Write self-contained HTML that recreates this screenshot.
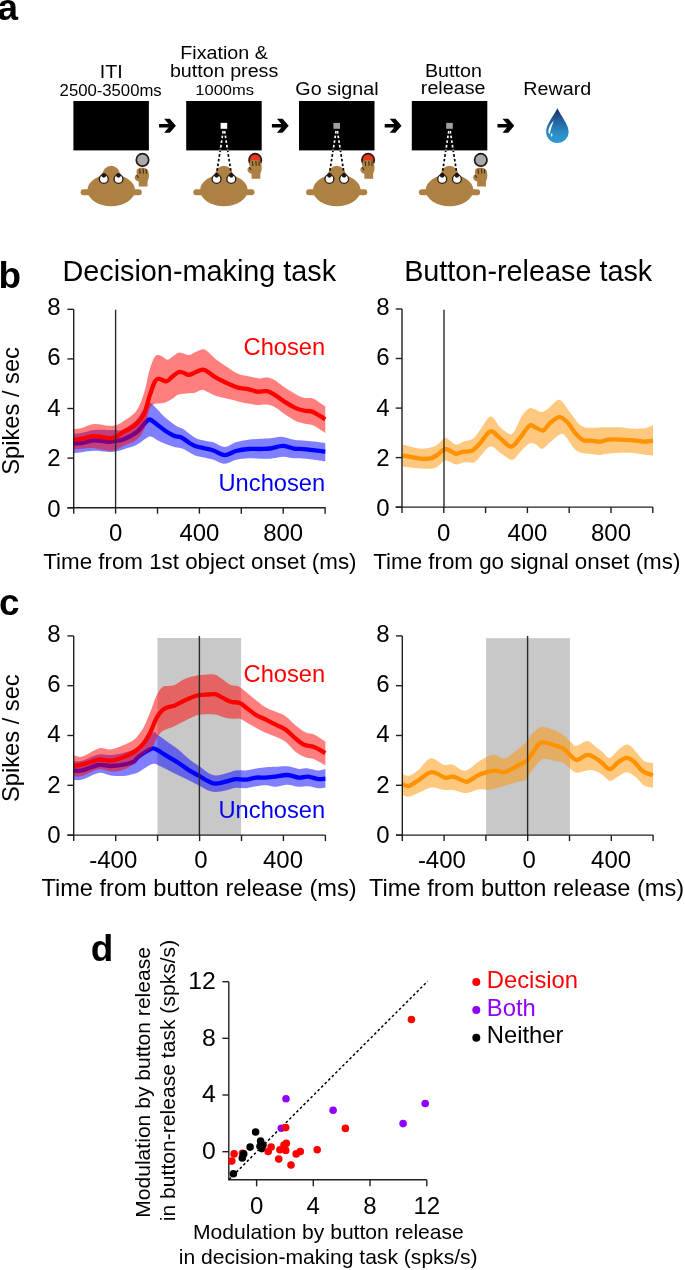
<!DOCTYPE html>
<html><head><meta charset="utf-8"><title>Figure</title>
<style>
html,body{margin:0;padding:0;background:#fff;}
body{width:685px;height:1270px;overflow:hidden;}
svg{will-change:transform;display:block;font-family:"Liberation Sans", sans-serif;}
</style></head>
<body>
<svg width="685" height="1270" viewBox="0 0 685 1270">
<text x="-2.4" y="20.2" font-size="36.9" text-anchor="start" font-weight="bold" fill="#000" >a</text>
<text transform="translate(111.25,77.6) scale(1.064,1)" font-size="18.52" text-anchor="middle" fill="#000">ITI</text>
<text transform="translate(110.65,95.7) scale(1.064,1)" font-size="15.70" text-anchor="middle" fill="#000">2500-3500ms</text>
<text transform="translate(224.1,58.6) scale(1.064,1)" font-size="18.52" text-anchor="middle" fill="#000">Fixation &amp;</text>
<text transform="translate(224.1,76.9) scale(1.064,1)" font-size="18.52" text-anchor="middle" fill="#000">button press</text>
<text transform="translate(224.65,95.3) scale(1.064,1)" font-size="15.51" text-anchor="middle" fill="#000">1000ms</text>
<text transform="translate(336.9,94.9) scale(1.064,1)" font-size="18.52" text-anchor="middle" fill="#000">Go signal</text>
<text transform="translate(453.4,76.8) scale(1.064,1)" font-size="18.52" text-anchor="middle" fill="#000">Button</text>
<text transform="translate(453.15,94.3) scale(1.064,1)" font-size="18.52" text-anchor="middle" fill="#000">release</text>
<text transform="translate(557.3,95.0) scale(1.064,1)" font-size="18.52" text-anchor="middle" fill="#000">Reward</text>
<rect x="73.4" y="101" width="75.5" height="49.4" fill="#000"/>
<polygon points="159.1,123.9 168.6,123.9 164.1,118.8 169.8,118.8 175.9,125.8 169.8,132.7 164.1,132.7 168.6,127.6 159.1,127.6" fill="#000"/>
<rect x="80.6" y="189.3" width="61.2" height="5.9" rx="2.95" fill="#ad8044"/>
<circle cx="111.2" cy="174.6" r="8.8" fill="#ad8044"/>
<ellipse cx="111.2" cy="190.2" rx="23.8" ry="16.0" fill="#ad8044"/>
<circle cx="103.8" cy="179" r="4.45" fill="#fff" stroke="#231815" stroke-width="1.3"/>
<circle cx="103.8" cy="175.3" r="2.35" fill="#231815"/>
<circle cx="118.5" cy="179" r="4.45" fill="#fff" stroke="#231815" stroke-width="1.3"/>
<circle cx="118.5" cy="175.3" r="2.35" fill="#231815"/>
<circle cx="142.5" cy="159.9" r="6.2" fill="#a9a9a9" stroke="#231815" stroke-width="1.7"/>
<path d="M138.75,186.60 L138.75,181.50 C137.65,181.30 136.55,180.90 135.75,180.00 C134.85,179.00 134.55,177.90 134.75,176.90 C134.95,175.60 135.95,174.60 137.05,174.70 C136.65,173.60 136.45,172.50 136.55,171.60 C136.65,170.30 136.95,169.50 137.55,169.00 C138.35,168.30 139.35,167.90 140.65,167.80 C142.15,167.70 143.95,167.80 145.35,168.30 C146.95,168.80 148.05,170.00 148.45,171.70 C148.95,173.50 149.05,175.80 148.75,177.60 C148.55,179.00 148.15,180.30 147.55,181.40 L147.55,186.60 Z" fill="#ad8044"/>
<line x1="139.7" y1="169.3" x2="140.1" y2="173.4" stroke="#3a2616" stroke-width="1.05" stroke-linecap="round"/>
<line x1="143.2" y1="169.0" x2="143.4" y2="173.2" stroke="#3a2616" stroke-width="1.05" stroke-linecap="round"/>
<line x1="146.2" y1="169.6" x2="146.4" y2="173.2" stroke="#3a2616" stroke-width="1.05" stroke-linecap="round"/>
<line x1="136.8" y1="175.3" x2="138.2" y2="177.6" stroke="#3a2616" stroke-width="1.05" stroke-linecap="round"/>
<rect x="186.2" y="101" width="75.5" height="49.4" fill="#000"/>
<polygon points="271.9,123.9 281.4,123.9 276.9,118.8 282.6,118.8 288.7,125.8 282.6,132.7 276.9,132.7 281.4,127.6 271.9,127.6" fill="#000"/>
<rect x="193.3" y="189.3" width="61.2" height="5.9" rx="2.95" fill="#ad8044"/>
<circle cx="223.9" cy="174.6" r="8.8" fill="#ad8044"/>
<ellipse cx="223.9" cy="190.2" rx="23.8" ry="16.0" fill="#ad8044"/>
<circle cx="216.6" cy="179" r="4.45" fill="#fff" stroke="#231815" stroke-width="1.3"/>
<circle cx="216.6" cy="175.3" r="2.35" fill="#231815"/>
<circle cx="231.3" cy="179" r="4.45" fill="#fff" stroke="#231815" stroke-width="1.3"/>
<circle cx="231.3" cy="175.3" r="2.35" fill="#231815"/>
<rect x="220.6" y="122.9" width="6.6" height="5.9" fill="#fff"/>
<line x1="223.2" y1="131" x2="216.6" y2="174" stroke="#000" stroke-width="1.7" stroke-dasharray="2.6 2.1"/>
<line x1="223.2" y1="131" x2="216.6" y2="174" stroke="#fff" stroke-width="1.7" stroke-dasharray="2.6 2.1" clip-path="url(#scr1)"/>
<line x1="224.6" y1="131" x2="231.3" y2="174" stroke="#000" stroke-width="1.7" stroke-dasharray="2.6 2.1"/>
<line x1="224.6" y1="131" x2="231.3" y2="174" stroke="#fff" stroke-width="1.7" stroke-dasharray="2.6 2.1" clip-path="url(#scr1)"/>
<clipPath id="scr1"><rect x="186.2" y="101" width="75.5" height="49.4"/></clipPath>
<circle cx="255.2" cy="159.9" r="6.2" fill="#e0391e" stroke="#231815" stroke-width="1.7"/>
<path d="M251.55,178.80 L251.55,173.70 C250.45,173.50 249.35,173.10 248.55,172.20 C247.65,171.20 247.35,170.10 247.55,169.10 C247.75,167.80 248.75,166.80 249.85,166.90 C249.45,165.80 249.25,164.70 249.35,163.80 C249.45,162.50 249.75,161.70 250.35,161.20 C251.15,160.50 252.15,160.10 253.45,160.00 C254.95,159.90 256.75,160.00 258.15,160.50 C259.75,161.00 260.85,162.20 261.25,163.90 C261.75,165.70 261.85,168.00 261.55,169.80 C261.35,171.20 260.95,172.50 260.35,173.60 L260.35,178.80 Z" fill="#ad8044"/>
<line x1="252.4" y1="161.5" x2="252.8" y2="165.6" stroke="#3a2616" stroke-width="1.05" stroke-linecap="round"/>
<line x1="255.9" y1="161.2" x2="256.2" y2="165.4" stroke="#3a2616" stroke-width="1.05" stroke-linecap="round"/>
<line x1="258.9" y1="161.8" x2="259.2" y2="165.4" stroke="#3a2616" stroke-width="1.05" stroke-linecap="round"/>
<line x1="249.5" y1="167.5" x2="250.9" y2="169.8" stroke="#3a2616" stroke-width="1.05" stroke-linecap="round"/>
<rect x="299.0" y="101" width="75.5" height="49.4" fill="#000"/>
<polygon points="384.7,123.9 394.2,123.9 389.7,118.8 395.4,118.8 401.5,125.8 395.4,132.7 389.7,132.7 394.2,127.6 384.7,127.6" fill="#000"/>
<rect x="306.1" y="189.3" width="61.2" height="5.9" rx="2.95" fill="#ad8044"/>
<circle cx="336.8" cy="174.6" r="8.8" fill="#ad8044"/>
<ellipse cx="336.8" cy="190.2" rx="23.8" ry="16.0" fill="#ad8044"/>
<circle cx="329.4" cy="179" r="4.45" fill="#fff" stroke="#231815" stroke-width="1.3"/>
<circle cx="329.4" cy="175.3" r="2.35" fill="#231815"/>
<circle cx="344.1" cy="179" r="4.45" fill="#fff" stroke="#231815" stroke-width="1.3"/>
<circle cx="344.1" cy="175.3" r="2.35" fill="#231815"/>
<rect x="333.4" y="122.9" width="6.6" height="5.9" fill="#a0a0a0"/>
<line x1="336.1" y1="131" x2="329.4" y2="174" stroke="#000" stroke-width="1.7" stroke-dasharray="2.6 2.1"/>
<line x1="336.1" y1="131" x2="329.4" y2="174" stroke="#fff" stroke-width="1.7" stroke-dasharray="2.6 2.1" clip-path="url(#scr2)"/>
<line x1="337.4" y1="131" x2="344.1" y2="174" stroke="#000" stroke-width="1.7" stroke-dasharray="2.6 2.1"/>
<line x1="337.4" y1="131" x2="344.1" y2="174" stroke="#fff" stroke-width="1.7" stroke-dasharray="2.6 2.1" clip-path="url(#scr2)"/>
<clipPath id="scr2"><rect x="299.0" y="101" width="75.5" height="49.4"/></clipPath>
<circle cx="368.1" cy="159.9" r="6.2" fill="#e0391e" stroke="#231815" stroke-width="1.7"/>
<path d="M364.35,178.80 L364.35,173.70 C363.25,173.50 362.15,173.10 361.35,172.20 C360.45,171.20 360.15,170.10 360.35,169.10 C360.55,167.80 361.55,166.80 362.65,166.90 C362.25,165.80 362.05,164.70 362.15,163.80 C362.25,162.50 362.55,161.70 363.15,161.20 C363.95,160.50 364.95,160.10 366.25,160.00 C367.75,159.90 369.55,160.00 370.95,160.50 C372.55,161.00 373.65,162.20 374.05,163.90 C374.55,165.70 374.65,168.00 374.35,169.80 C374.15,171.20 373.75,172.50 373.15,173.60 L373.15,178.80 Z" fill="#ad8044"/>
<line x1="365.2" y1="161.5" x2="365.6" y2="165.6" stroke="#3a2616" stroke-width="1.05" stroke-linecap="round"/>
<line x1="368.8" y1="161.2" x2="369.1" y2="165.4" stroke="#3a2616" stroke-width="1.05" stroke-linecap="round"/>
<line x1="371.8" y1="161.8" x2="372.1" y2="165.4" stroke="#3a2616" stroke-width="1.05" stroke-linecap="round"/>
<line x1="362.4" y1="167.5" x2="363.8" y2="169.8" stroke="#3a2616" stroke-width="1.05" stroke-linecap="round"/>
<rect x="411.8" y="101" width="75.5" height="49.4" fill="#000"/>
<polygon points="497.5,123.9 507.0,123.9 502.5,118.8 508.2,118.8 514.3,125.8 508.2,132.7 502.5,132.7 507.0,127.6 497.5,127.6" fill="#000"/>
<rect x="418.9" y="189.3" width="61.2" height="5.9" rx="2.95" fill="#ad8044"/>
<circle cx="449.5" cy="174.6" r="8.8" fill="#ad8044"/>
<ellipse cx="449.5" cy="190.2" rx="23.8" ry="16.0" fill="#ad8044"/>
<circle cx="442.2" cy="179" r="4.45" fill="#fff" stroke="#231815" stroke-width="1.3"/>
<circle cx="442.2" cy="175.3" r="2.35" fill="#231815"/>
<circle cx="456.9" cy="179" r="4.45" fill="#fff" stroke="#231815" stroke-width="1.3"/>
<circle cx="456.9" cy="175.3" r="2.35" fill="#231815"/>
<rect x="446.2" y="122.9" width="6.6" height="5.9" fill="#a0a0a0"/>
<line x1="448.8" y1="131" x2="442.2" y2="174" stroke="#000" stroke-width="1.7" stroke-dasharray="2.6 2.1"/>
<line x1="448.8" y1="131" x2="442.2" y2="174" stroke="#fff" stroke-width="1.7" stroke-dasharray="2.6 2.1" clip-path="url(#scr3)"/>
<line x1="450.2" y1="131" x2="456.9" y2="174" stroke="#000" stroke-width="1.7" stroke-dasharray="2.6 2.1"/>
<line x1="450.2" y1="131" x2="456.9" y2="174" stroke="#fff" stroke-width="1.7" stroke-dasharray="2.6 2.1" clip-path="url(#scr3)"/>
<clipPath id="scr3"><rect x="411.8" y="101" width="75.5" height="49.4"/></clipPath>
<circle cx="480.8" cy="159.9" r="6.2" fill="#a9a9a9" stroke="#231815" stroke-width="1.7"/>
<path d="M477.15,186.60 L477.15,181.50 C476.05,181.30 474.95,180.90 474.15,180.00 C473.25,179.00 472.95,177.90 473.15,176.90 C473.35,175.60 474.35,174.60 475.45,174.70 C475.05,173.60 474.85,172.50 474.95,171.60 C475.05,170.30 475.35,169.50 475.95,169.00 C476.75,168.30 477.75,167.90 479.05,167.80 C480.55,167.70 482.35,167.80 483.75,168.30 C485.35,168.80 486.45,170.00 486.85,171.70 C487.35,173.50 487.45,175.80 487.15,177.60 C486.95,179.00 486.55,180.30 485.95,181.40 L485.95,186.60 Z" fill="#ad8044"/>
<line x1="478.0" y1="169.3" x2="478.4" y2="173.4" stroke="#3a2616" stroke-width="1.05" stroke-linecap="round"/>
<line x1="481.5" y1="169.0" x2="481.8" y2="173.2" stroke="#3a2616" stroke-width="1.05" stroke-linecap="round"/>
<line x1="484.5" y1="169.6" x2="484.8" y2="173.2" stroke="#3a2616" stroke-width="1.05" stroke-linecap="round"/>
<line x1="475.1" y1="175.3" x2="476.5" y2="177.6" stroke="#3a2616" stroke-width="1.05" stroke-linecap="round"/>
<defs><linearGradient id="dropg" x1="0" y1="0" x2="0" y2="1"><stop offset="0" stop-color="#1a2c66"/><stop offset="0.35" stop-color="#245f9c"/><stop offset="0.7" stop-color="#2b8bc6"/><stop offset="1" stop-color="#2f9bd4"/></linearGradient></defs>
<path d="M557.4,108.3 C556,111.5 551,118.5 548.5,123.5 C546.8,126.8 546.1,129 546.1,131.8 C546.1,138 551,143.1 557.3,143.1 C563.7,143.1 568.6,138 568.6,131.8 C568.6,129 567.8,126.8 566.1,123.5 C563.6,118.5 558.8,111.5 557.4,108.3 Z" fill="url(#dropg)"/>
<path d="M553.8,120.8 C550.8,123.6 548.4,127.6 548.4,131.2 C548.4,132.7 548.9,133.6 549.8,133.7 C550.6,129.6 552.2,125.0 553.8,120.8 Z" fill="#fff"/>
<ellipse cx="551.6" cy="134.9" rx="0.85" ry="1.6" fill="#fff"/>
<text x="-1.44" y="288.3" font-size="36.9" text-anchor="start" font-weight="bold" fill="#000" >b</text>
<text x="199.3" y="280.9" font-size="28.8" text-anchor="middle" font-weight="normal" fill="#000" >Decision-making task</text>
<text x="528.2" y="281.3" font-size="28.8" text-anchor="middle" font-weight="normal" fill="#000" >Button-release task</text>
<g>
<path d="M73.5,433.8 C74.9,433.6 78.6,433.5 82.0,432.9 C85.4,432.3 89.3,430.5 93.7,430.0 C98.1,429.5 104.9,430.0 108.6,430.0 C112.2,430.0 113.2,430.1 115.6,430.0 C118.0,429.9 119.6,431.2 123.1,429.5 C126.5,427.8 133.0,423.2 136.3,420.0 C139.6,416.8 140.8,412.9 143.0,410.0 C145.2,407.1 147.1,402.6 149.4,402.4 C151.7,402.2 154.4,406.5 157.0,409.0 C159.6,411.5 162.1,414.8 165.2,417.5 C168.3,420.2 172.6,423.4 175.7,425.4 C178.8,427.4 180.4,427.2 183.6,429.3 C186.8,431.4 191.4,435.8 195.0,437.7 C198.6,439.6 202.1,440.0 205.2,440.8 C208.3,441.6 210.2,441.3 213.4,442.3 C216.7,443.3 220.9,447.0 224.7,447.0 C228.4,447.0 232.0,443.5 235.9,442.3 C239.8,441.1 244.2,440.4 248.2,439.8 C252.2,439.2 256.3,439.1 260.0,438.8 C263.7,438.6 266.6,438.7 270.2,438.3 C273.8,437.9 277.6,436.4 281.5,436.7 C285.4,436.9 289.7,439.1 293.8,439.8 C297.9,440.5 300.9,440.3 306.1,440.8 C311.4,441.3 322.1,442.5 325.3,442.9 L325.3,461.3 C322.1,460.9 311.4,459.2 306.1,458.7 C300.9,458.2 297.6,458.5 293.8,458.2 C290.0,457.9 287.4,456.6 283.5,456.7 C279.6,456.8 274.1,458.4 270.2,458.7 C266.3,459.0 263.7,458.8 260.0,458.7 C256.3,458.6 252.2,458.0 248.2,458.2 C244.2,458.4 239.8,458.8 235.9,459.7 C232.0,460.6 228.4,463.8 224.7,463.8 C220.9,463.8 216.7,460.7 213.4,459.7 C210.2,458.7 208.3,458.4 205.2,457.7 C202.1,457.0 198.6,457.0 195.0,455.6 C191.4,454.2 187.0,450.5 183.6,449.1 C180.2,447.7 177.5,448.0 174.4,447.1 C171.3,446.2 168.1,445.0 165.2,443.8 C162.3,442.6 159.6,441.2 157.0,440.0 C154.4,438.8 152.8,435.8 149.4,436.6 C146.0,437.5 140.7,443.0 136.3,445.1 C131.9,447.2 126.5,448.4 123.1,449.5 C119.6,450.6 118.0,451.1 115.6,451.5 C113.2,451.9 112.2,452.0 108.6,451.9 C104.9,451.8 98.1,450.8 93.7,450.8 C89.3,450.9 85.4,451.8 82.0,452.2 C78.6,452.6 74.9,452.9 73.5,453.0 Z" fill="rgba(0,0,255,0.5)"/>
<path d="M73.5,443.5 C74.9,443.4 78.6,443.6 82.0,443.1 C85.4,442.6 89.3,440.6 93.7,440.4 C98.1,440.2 104.9,441.7 108.6,441.8 C112.2,441.9 113.2,441.3 115.6,440.9 C118.0,440.5 119.6,440.9 123.1,439.5 C126.5,438.1 132.8,435.1 136.3,432.5 C139.8,429.9 142.0,426.2 144.2,424.0 C146.4,421.8 147.3,419.4 149.4,419.5 C151.5,419.6 154.4,422.6 157.0,424.5 C159.6,426.4 162.3,428.8 165.2,430.7 C168.1,432.6 171.8,434.8 174.4,435.9 C177.0,437.0 178.6,436.1 181.0,437.2 C183.4,438.3 186.5,441.1 188.8,442.5 C191.1,443.9 192.3,444.9 195.0,445.9 C197.7,446.9 202.1,447.7 205.2,448.5 C208.3,449.3 210.2,449.4 213.4,450.5 C216.7,451.6 220.9,455.0 224.7,455.1 C228.4,455.2 232.0,452.0 235.9,451.0 C239.8,450.0 244.2,449.3 248.2,449.0 C252.2,448.7 256.3,449.1 260.0,449.0 C263.7,448.9 266.4,449.0 270.2,448.5 C273.9,448.0 278.6,445.9 282.5,445.9 C286.4,445.9 289.9,447.9 293.8,448.5 C297.7,449.1 300.9,448.8 306.1,449.3 C311.4,449.8 322.1,451.2 325.3,451.6" stroke="#0000ff" stroke-width="4.3" fill="none" stroke-linejoin="round" stroke-linecap="butt"/>
<path d="M73.5,429.2 C74.9,429.0 78.6,429.0 82.0,428.1 C85.4,427.2 89.3,424.5 93.7,424.1 C98.1,423.7 104.9,425.6 108.6,425.8 C112.2,426.0 113.2,425.9 115.6,425.2 C118.0,424.5 119.6,423.9 123.1,421.5 C126.5,419.1 132.8,415.8 136.3,411.0 C139.8,406.2 142.0,399.4 144.2,392.6 C146.4,385.8 147.7,376.1 149.4,370.2 C151.2,364.3 153.2,359.6 154.7,357.1 C156.2,354.6 157.2,355.1 158.6,355.1 C160.0,355.1 161.5,356.2 163.0,357.0 C164.5,357.8 166.1,359.9 167.8,359.7 C169.6,359.5 171.5,357.2 173.5,356.0 C175.5,354.8 177.0,352.6 179.6,352.5 C182.2,352.4 186.2,355.1 188.8,355.1 C191.4,355.1 192.7,353.3 195.0,352.3 C197.3,351.3 200.6,349.4 202.7,349.2 C204.8,349.0 205.2,349.7 207.3,351.3 C209.4,352.9 212.4,356.4 215.5,358.9 C218.6,361.4 221.9,363.6 225.7,366.1 C229.4,368.6 234.2,372.1 238.0,373.8 C241.8,375.5 244.6,375.5 248.2,376.3 C251.8,377.1 256.3,378.2 259.5,378.4 C262.7,378.6 264.6,377.1 267.2,377.4 C269.8,377.7 272.3,378.6 275.4,380.4 C278.5,382.2 282.2,385.8 285.6,388.1 C289.0,390.4 292.7,392.6 295.8,394.2 C298.9,395.8 301.3,397.1 304.0,397.8 C306.7,398.5 309.6,397.5 312.2,398.3 C314.8,399.1 317.2,401.0 319.4,402.4 C321.6,403.8 324.3,405.8 325.3,406.5 L325.3,433.1 C324.3,432.4 321.6,430.4 319.4,429.0 C317.2,427.6 314.8,425.8 312.2,424.9 C309.6,424.0 306.7,424.1 304.0,423.4 C301.3,422.7 298.9,422.3 295.8,420.9 C292.7,419.4 289.0,416.9 285.6,414.7 C282.2,412.5 278.5,409.2 275.4,407.5 C272.3,405.8 270.2,404.9 267.2,404.5 C264.2,404.1 260.6,405.2 257.4,405.0 C254.2,404.8 251.4,404.1 248.2,403.5 C245.0,402.9 241.8,402.3 238.0,401.4 C234.2,400.5 229.4,399.2 225.7,398.3 C221.9,397.4 219.3,397.2 215.5,395.8 C211.7,394.4 206.1,390.6 202.7,390.1 C199.3,389.6 197.3,392.2 195.0,392.7 C192.7,393.2 191.6,392.9 188.8,393.2 C186.0,393.5 181.1,393.5 178.3,394.5 C175.5,395.5 174.2,397.7 172.0,399.0 C169.8,400.3 167.5,401.6 165.2,402.4 C162.9,403.1 160.0,403.2 158.0,403.5 C156.0,403.8 154.8,403.4 153.4,404.4 C152.0,405.4 150.9,405.5 149.4,409.6 C147.9,413.8 146.4,424.2 144.2,429.3 C142.0,434.4 139.8,437.1 136.3,439.9 C132.8,442.7 126.5,444.3 123.1,446.0 C119.6,447.7 118.0,449.2 115.6,450.0 C113.2,450.8 112.2,451.1 108.6,450.8 C104.9,450.5 98.1,448.6 93.7,448.2 C89.3,447.8 85.4,448.5 82.0,448.7 C78.6,448.9 74.9,449.2 73.5,449.3 Z" fill="rgba(255,0,0,0.5)"/>
<path d="M73.5,439.6 C74.9,439.5 78.6,439.3 82.0,438.7 C85.4,438.1 89.3,436.3 93.7,436.2 C98.1,436.1 104.9,438.0 108.6,438.1 C112.2,438.2 113.2,438.0 115.6,437.0 C118.0,436.0 120.7,433.4 123.1,432.0 C125.5,430.6 127.8,429.8 130.0,428.5 C132.2,427.2 133.9,426.6 136.3,424.1 C138.7,421.6 142.0,418.2 144.2,413.6 C146.4,409.0 147.7,401.8 149.4,396.5 C151.2,391.2 153.2,384.9 154.7,382.0 C156.2,379.1 156.6,378.9 158.6,378.8 C160.6,378.7 164.3,381.7 166.5,381.4 C168.7,381.1 170.0,378.5 172.0,377.0 C174.0,375.5 176.5,372.9 178.3,372.2 C180.1,371.4 181.2,372.1 183.0,372.5 C184.8,372.9 186.8,374.8 188.8,374.8 C190.8,374.8 192.7,373.4 195.0,372.5 C197.3,371.6 200.5,369.8 202.7,369.7 C204.9,369.6 206.2,370.9 208.3,372.2 C210.4,373.5 212.6,375.7 215.5,377.4 C218.4,379.1 221.9,380.8 225.7,382.5 C229.4,384.2 234.2,386.5 238.0,387.6 C241.8,388.7 245.0,388.4 248.2,389.1 C251.4,389.8 254.2,391.4 257.4,391.7 C260.6,392.0 264.2,390.6 267.2,391.2 C270.2,391.8 272.3,393.4 275.4,395.3 C278.5,397.2 282.2,400.3 285.6,402.4 C289.0,404.5 292.7,406.7 295.8,408.1 C298.9,409.5 301.3,410.0 304.0,410.6 C306.7,411.2 309.6,410.8 312.2,411.6 C314.8,412.5 317.2,414.4 319.4,415.7 C321.6,417.0 324.3,418.7 325.3,419.3" stroke="#ff0000" stroke-width="4.3" fill="none" stroke-linejoin="round" stroke-linecap="butt"/>
</g>
<path d="M115.6,309.7 V507.7" stroke="#2a2a2a" stroke-width="1.4"/>
<path d="M73.7,309.3 V507.7" stroke="#231f20" stroke-width="1.4" fill="none"/>
<path d="M67.4,507.7 H325.7" stroke="#231f20" stroke-width="1.4" fill="none"/>
<path d="M67.4,309.3 H73.7" stroke="#231f20" stroke-width="1.4"/>
<text x="60.6" y="315.1" font-size="24" text-anchor="end" font-weight="normal" fill="#000" >8</text>
<path d="M67.4,358.9 H73.7" stroke="#231f20" stroke-width="1.4"/>
<text x="60.6" y="365.4" font-size="24" text-anchor="end" font-weight="normal" fill="#000" >6</text>
<path d="M67.4,408.5 H73.7" stroke="#231f20" stroke-width="1.4"/>
<text x="60.6" y="415.8" font-size="24" text-anchor="end" font-weight="normal" fill="#000" >4</text>
<path d="M67.4,458.1 H73.7" stroke="#231f20" stroke-width="1.4"/>
<text x="60.6" y="466.1" font-size="24" text-anchor="end" font-weight="normal" fill="#000" >2</text>
<path d="M67.4,507.7 H73.7" stroke="#231f20" stroke-width="1.4"/>
<text x="60.6" y="516.5" font-size="24" text-anchor="end" font-weight="normal" fill="#000" >0</text>
<path d="M73.7,507.7 V513.7" stroke="#231f20" stroke-width="1.4"/>
<path d="M115.6,507.7 V513.7" stroke="#231f20" stroke-width="1.4"/>
<path d="M157.5,507.7 V513.7" stroke="#231f20" stroke-width="1.4"/>
<path d="M199.4,507.7 V513.7" stroke="#231f20" stroke-width="1.4"/>
<path d="M241.3,507.7 V513.7" stroke="#231f20" stroke-width="1.4"/>
<path d="M283.2,507.7 V513.7" stroke="#231f20" stroke-width="1.4"/>
<path d="M325.1,507.7 V513.7" stroke="#231f20" stroke-width="1.4"/>
<text x="115.6" y="540.8" font-size="24" text-anchor="middle" font-weight="normal" fill="#000" >0</text>
<text x="199.4" y="540.8" font-size="24" text-anchor="middle" font-weight="normal" fill="#000" >400</text>
<text x="283.2" y="540.8" font-size="24" text-anchor="middle" font-weight="normal" fill="#000" >800</text>
<text x="199.9" y="569" font-size="22.35" text-anchor="middle" font-weight="normal" fill="#000" >Time from 1st object onset (ms)</text>
<text x="325.2" y="355.1" font-size="23.7" text-anchor="end" font-weight="normal" fill="#ff0000" >Chosen</text>
<text x="325.2" y="491.1" font-size="23.7" text-anchor="end" font-weight="normal" fill="#0000ee" >Unchosen</text>
<text transform="translate(19.0,410.9) rotate(-90)" font-size="23.7" text-anchor="middle" fill="#000">Spikes / sec</text>
<path d="M402.6,444.6 C403.9,444.9 407.2,445.9 410.2,446.6 C413.2,447.3 417.0,448.4 420.4,448.6 C423.8,448.8 428.0,448.2 430.7,447.6 C433.4,447.0 434.6,446.6 436.8,445.1 C439.0,443.6 442.2,439.5 443.9,438.4 C445.6,437.3 444.9,437.4 447.0,438.4 C449.1,439.4 453.5,444.1 456.2,444.6 C458.9,445.1 460.6,442.5 463.4,441.5 C466.2,440.5 470.4,440.4 473.2,438.4 C476.0,436.4 477.4,433.3 480.3,429.7 C483.2,426.1 487.3,417.0 490.5,416.5 C493.7,416.0 496.6,423.8 499.7,426.7 C502.8,429.6 506.5,432.9 508.9,433.8 C511.3,434.7 511.8,434.9 514.0,431.8 C516.2,428.7 519.6,419.3 522.2,415.4 C524.8,411.5 527.3,409.3 529.4,408.3 C531.5,407.3 533.0,408.7 535.0,409.3 C537.0,409.9 539.0,412.1 541.2,412.0 C543.4,411.9 545.8,410.3 548.4,408.4 C551.0,406.5 554.4,401.9 556.6,400.7 C558.8,399.5 559.3,399.1 561.7,401.2 C564.1,403.3 567.7,409.4 570.9,413.5 C574.1,417.6 577.7,423.4 581.1,425.8 C584.5,428.2 587.3,427.6 591.3,427.8 C595.3,428.1 600.3,427.4 605.2,427.3 C610.1,427.2 616.4,427.1 620.5,427.3 C624.6,427.5 625.8,428.4 629.7,428.6 C633.6,428.8 640.1,428.9 644.0,428.3 C647.9,427.8 651.5,425.8 653.0,425.3 L653.0,455.4 C651.9,455.3 649.8,455.3 646.1,454.9 C642.4,454.5 636.9,453.1 630.8,452.8 C624.7,452.6 614.4,453.0 609.3,453.4 C604.2,453.8 603.1,454.8 600.1,454.9 C597.1,455.0 594.5,454.2 591.3,453.9 C588.1,453.5 584.0,453.8 581.1,452.8 C578.2,451.9 576.3,450.7 573.9,448.2 C571.5,445.7 569.0,440.4 566.8,438.0 C564.6,435.6 563.4,433.2 560.7,433.9 C558.0,434.6 553.5,439.6 550.4,442.1 C547.3,444.6 544.9,448.5 542.3,448.8 C539.7,449.1 537.3,444.8 535.0,444.0 C532.7,443.2 531.0,442.5 528.4,444.0 C525.8,445.5 521.9,450.6 519.2,453.2 C516.5,455.8 515.1,459.9 512.0,459.9 C508.9,459.9 504.4,455.4 500.8,453.2 C497.2,451.0 493.9,446.1 490.5,446.6 C487.1,447.1 483.0,453.7 480.3,456.3 C477.6,458.9 477.0,461.4 474.2,462.4 C471.4,463.4 466.4,462.0 463.4,462.4 C460.4,462.8 458.6,464.7 456.2,464.5 C453.8,464.3 451.1,462.0 449.0,461.4 C446.9,460.8 445.6,460.2 443.9,460.9 C442.2,461.6 440.7,464.2 438.8,465.5 C436.9,466.8 435.8,468.1 432.7,468.6 C429.6,469.1 424.1,468.8 420.4,468.6 C416.6,468.4 413.2,468.0 410.2,467.6 C407.2,467.2 403.9,466.7 402.6,466.5 Z" fill="rgba(255,146,0,0.5)"/>
<path d="M402.6,455.3 C403.9,455.6 407.2,456.2 410.2,456.8 C413.2,457.4 417.0,458.3 420.4,458.6 C423.8,458.9 428.0,458.9 430.7,458.4 C433.4,457.8 434.8,456.7 436.8,455.3 C438.8,453.9 441.4,451.2 442.9,450.2 C444.4,449.2 444.6,449.0 446.0,449.2 C447.4,449.4 449.4,450.4 451.1,451.2 C452.8,452.0 454.1,453.7 456.2,453.8 C458.2,453.9 460.7,452.2 463.4,451.7 C466.1,451.2 469.4,452.1 472.2,450.7 C475.0,449.2 477.2,446.2 480.3,443.0 C483.4,439.8 487.1,432.0 490.5,431.3 C493.9,430.6 497.4,436.3 500.8,438.9 C504.2,441.4 507.9,446.6 511.0,446.6 C514.1,446.6 516.1,442.4 519.2,438.9 C522.3,435.4 526.6,427.5 529.4,425.7 C532.2,423.9 533.8,427.0 536.1,427.8 C538.4,428.6 540.9,431.2 543.3,430.4 C545.7,429.5 547.7,424.9 550.4,422.7 C553.1,420.5 556.7,417.1 559.6,417.1 C562.5,417.1 565.2,420.1 567.8,422.7 C570.4,425.3 572.5,430.0 575.0,432.9 C577.5,435.8 580.4,438.8 583.1,440.1 C585.8,441.4 588.5,440.4 591.3,440.6 C594.1,440.9 597.3,441.8 600.1,441.6 C602.9,441.4 604.7,439.9 608.3,439.6 C611.9,439.3 617.0,439.4 621.6,439.6 C626.2,439.8 632.2,440.3 635.9,440.6 C639.6,440.9 641.1,441.6 644.0,441.6 C646.9,441.6 651.5,440.8 653.0,440.6" stroke="#ff9200" stroke-width="4.3" fill="none" stroke-linejoin="round" stroke-linecap="butt"/>
<path d="M444.0,309.7 V507.1" stroke="#2a2a2a" stroke-width="1.4"/>
<path d="M402.0,309.0 V507.1" stroke="#231f20" stroke-width="1.4" fill="none"/>
<path d="M395.7,507.1 H652.8" stroke="#231f20" stroke-width="1.4" fill="none"/>
<path d="M395.7,309.0 H402.0" stroke="#231f20" stroke-width="1.4"/>
<text x="389.7" y="314.8" font-size="24" text-anchor="end" font-weight="normal" fill="#000" >8</text>
<path d="M395.7,358.5 H402.0" stroke="#231f20" stroke-width="1.4"/>
<text x="389.7" y="365.2" font-size="24" text-anchor="end" font-weight="normal" fill="#000" >6</text>
<path d="M395.7,408.1 H402.0" stroke="#231f20" stroke-width="1.4"/>
<text x="389.7" y="415.5" font-size="24" text-anchor="end" font-weight="normal" fill="#000" >4</text>
<path d="M395.7,457.6 H402.0" stroke="#231f20" stroke-width="1.4"/>
<text x="389.7" y="465.9" font-size="24" text-anchor="end" font-weight="normal" fill="#000" >2</text>
<path d="M395.7,507.1 H402.0" stroke="#231f20" stroke-width="1.4"/>
<text x="389.7" y="516.2" font-size="24" text-anchor="end" font-weight="normal" fill="#000" >0</text>
<path d="M402.0,507.1 V513.1" stroke="#231f20" stroke-width="1.4"/>
<path d="M443.8,507.1 V513.1" stroke="#231f20" stroke-width="1.4"/>
<path d="M485.6,507.1 V513.1" stroke="#231f20" stroke-width="1.4"/>
<path d="M527.4,507.1 V513.1" stroke="#231f20" stroke-width="1.4"/>
<path d="M569.2,507.1 V513.1" stroke="#231f20" stroke-width="1.4"/>
<path d="M611.0,507.1 V513.1" stroke="#231f20" stroke-width="1.4"/>
<path d="M652.8,507.1 V513.1" stroke="#231f20" stroke-width="1.4"/>
<text x="443.8" y="540.8" font-size="24" text-anchor="middle" font-weight="normal" fill="#000" >0</text>
<text x="527.4" y="540.8" font-size="24" text-anchor="middle" font-weight="normal" fill="#000" >400</text>
<text x="611.0" y="540.8" font-size="24" text-anchor="middle" font-weight="normal" fill="#000" >800</text>
<text x="526.8" y="569" font-size="22.35" text-anchor="middle" font-weight="normal" fill="#000" >Time from go signal onset (ms)</text>
<text x="-0.9" y="615.2" font-size="36.9" text-anchor="start" font-weight="bold" fill="#000" >c</text>
<rect x="157.5" y="638" width="83.6" height="197.1" fill="#c8c8c8"/>
<path d="M73.5,761.2 C75.0,761.1 78.0,761.8 82.2,760.7 C86.4,759.6 93.8,755.5 98.6,754.5 C103.4,753.5 106.7,755.2 110.8,755.0 C114.9,754.8 119.3,753.9 123.1,753.0 C126.8,752.1 130.2,750.9 133.3,749.4 C136.5,747.9 138.7,747.1 142.0,744.3 C145.3,741.5 150.7,734.0 153.4,732.5 C156.2,731.0 155.9,733.9 158.5,735.6 C161.1,737.3 165.3,740.4 168.7,742.8 C172.1,745.2 175.5,747.2 178.9,749.9 C182.3,752.6 185.8,756.5 189.2,759.2 C192.6,761.9 196.4,764.2 199.4,766.3 C202.4,768.4 204.4,770.4 207.0,771.9 C209.6,773.4 212.1,775.2 215.2,775.5 C218.3,775.8 222.1,774.4 225.5,773.5 C228.9,772.6 232.3,770.9 235.7,770.4 C239.1,769.9 242.5,770.7 245.9,770.4 C249.3,770.1 252.8,768.9 256.2,768.4 C259.6,767.9 263.2,767.6 266.4,767.3 C269.6,767.0 271.7,767.0 275.2,766.8 C278.7,766.6 283.6,765.9 287.5,766.3 C291.4,766.6 295.4,768.5 298.8,768.9 C302.2,769.2 304.8,768.1 308.0,768.4 C311.2,768.6 315.3,770.3 318.2,770.4 C321.1,770.5 324.2,769.1 325.4,768.9 L325.4,787.8 C324.2,787.9 321.1,788.5 318.2,788.3 C315.3,788.0 311.2,786.5 308.0,786.3 C304.8,786.0 302.2,787.1 298.8,786.8 C295.4,786.5 291.4,784.7 287.5,784.7 C283.6,784.7 278.7,786.7 275.2,786.8 C271.7,786.9 269.6,785.4 266.4,785.3 C263.2,785.2 259.6,785.8 256.2,786.3 C252.8,786.8 249.3,788.0 245.9,788.3 C242.5,788.5 239.1,787.4 235.7,787.8 C232.3,788.1 228.9,789.7 225.5,790.4 C222.1,791.1 218.3,792.0 215.2,791.9 C212.1,791.8 209.6,790.9 207.0,789.9 C204.4,788.9 202.4,787.3 199.4,785.8 C196.4,784.2 192.6,782.3 189.2,780.6 C185.8,778.9 182.3,777.2 178.9,775.5 C175.5,773.8 171.8,771.9 168.7,770.4 C165.6,768.9 163.1,767.4 160.5,766.3 C157.9,765.2 155.8,763.6 153.4,763.8 C151.0,764.0 148.8,765.8 146.2,767.3 C143.6,768.8 140.2,771.4 138.0,772.5 C135.8,773.6 135.8,773.3 133.3,773.9 C130.8,774.5 126.8,775.7 123.1,776.0 C119.3,776.3 114.9,776.0 110.8,775.5 C106.7,775.0 103.4,772.2 98.6,772.9 C93.8,773.6 86.4,778.4 82.2,779.6 C78.0,780.8 75.0,780.0 73.5,780.1 Z" fill="rgba(0,0,255,0.5)"/>
<path d="M73.5,770.6 C75.0,770.6 78.0,771.3 82.2,770.4 C86.4,769.5 93.8,765.7 98.6,765.0 C103.4,764.3 106.7,766.0 110.8,766.0 C114.9,766.0 119.3,765.4 123.1,764.7 C126.8,764.0 130.8,763.2 133.3,761.9 C135.8,760.6 135.8,758.8 138.0,757.1 C140.2,755.4 143.6,753.0 146.2,751.5 C148.8,750.0 151.0,748.3 153.4,748.4 C155.8,748.5 157.9,750.5 160.5,752.0 C163.1,753.5 165.6,755.2 168.7,757.1 C171.8,759.0 175.5,761.0 178.9,763.2 C182.3,765.4 185.8,768.3 189.2,770.4 C192.6,772.5 196.4,774.3 199.4,776.0 C202.4,777.7 204.4,779.3 207.0,780.6 C209.6,781.9 212.1,783.5 215.2,783.7 C218.3,783.9 222.1,782.5 225.5,781.7 C228.9,780.9 232.3,779.5 235.7,779.1 C239.1,778.8 242.5,779.9 245.9,779.6 C249.3,779.4 253.0,777.9 256.2,777.6 C259.4,777.3 261.8,777.8 265.0,777.6 C268.2,777.4 271.4,777.0 275.2,776.6 C278.9,776.2 283.6,774.8 287.5,775.0 C291.4,775.2 295.4,777.3 298.8,777.6 C302.2,777.9 304.8,776.4 308.0,776.6 C311.2,776.9 315.3,778.8 318.2,779.1 C321.1,779.4 324.2,778.7 325.4,778.6" stroke="#0000ff" stroke-width="4.3" fill="none" stroke-linejoin="round" stroke-linecap="butt"/>
<path d="M73.5,755.0 C75.0,755.3 78.0,757.7 82.2,756.6 C86.4,755.5 93.8,749.6 98.6,748.4 C103.4,747.2 106.7,749.9 110.8,749.4 C114.9,748.9 119.3,746.8 123.1,745.3 C126.8,743.8 130.8,741.8 133.3,740.2 C135.8,738.6 136.2,737.9 138.0,735.6 C139.8,733.3 142.0,730.3 144.1,726.4 C146.2,722.5 148.2,717.2 150.3,712.1 C152.4,707.0 154.4,699.9 156.4,695.7 C158.4,691.5 160.6,688.6 162.6,687.0 C164.6,685.4 166.7,686.3 168.7,686.0 C170.7,685.7 172.2,686.1 174.8,685.0 C177.4,683.9 181.0,680.8 184.1,679.3 C187.2,677.8 190.1,677.1 193.3,676.3 C196.5,675.5 199.8,675.0 203.5,674.7 C207.2,674.4 212.0,673.9 215.2,674.7 C218.3,675.5 219.8,677.6 222.4,679.3 C225.0,681.0 227.9,683.8 230.6,685.0 C233.3,686.2 235.9,685.0 238.8,686.5 C241.7,688.0 245.1,691.4 248.0,693.7 C250.9,696.0 253.4,698.1 256.2,700.3 C259.0,702.5 261.8,705.1 265.0,707.0 C268.2,708.9 271.8,710.1 275.2,711.6 C278.6,713.1 282.1,713.9 285.5,716.2 C288.9,718.5 292.3,722.7 295.7,725.4 C299.1,728.1 302.8,731.0 305.9,732.5 C309.0,734.0 310.9,733.1 314.1,734.6 C317.4,736.1 323.5,740.6 325.4,741.8 L325.4,765.3 C323.5,764.3 317.4,760.5 314.1,759.2 C310.9,757.9 309.0,758.8 305.9,757.6 C302.8,756.4 299.1,754.6 295.7,752.0 C292.3,749.4 288.9,744.4 285.5,741.8 C282.1,739.2 278.6,738.1 275.2,736.6 C271.8,735.1 268.2,734.0 265.0,732.5 C261.8,731.0 259.0,729.4 256.2,727.9 C253.4,726.4 250.7,724.8 248.0,723.3 C245.3,721.8 242.5,719.5 239.8,718.7 C237.1,717.9 234.3,719.0 231.6,718.7 C228.9,718.5 226.1,717.9 223.4,717.2 C220.7,716.5 218.8,715.0 215.2,714.6 C211.5,714.2 205.2,714.2 201.5,714.6 C197.8,715.0 196.2,715.6 193.3,716.7 C190.4,717.8 187.3,719.7 184.1,721.3 C180.8,722.9 177.2,724.9 173.8,726.4 C170.4,727.9 166.2,729.0 163.6,730.5 C161.0,732.0 160.6,732.6 158.5,735.6 C156.4,738.6 154.1,745.2 151.3,748.5 C148.6,751.8 145.0,752.9 142.0,755.5 C139.0,758.1 136.5,761.8 133.3,764.2 C130.2,766.6 126.8,768.7 123.1,769.9 C119.3,771.1 114.9,771.5 110.8,771.4 C106.7,771.3 103.4,768.5 98.6,769.3 C93.8,770.1 86.4,774.8 82.2,776.0 C78.0,777.2 75.0,776.4 73.5,776.5 Z" fill="rgba(255,0,0,0.5)"/>
<path d="M73.5,765.8 C75.0,765.6 78.0,765.7 82.2,764.7 C86.4,763.7 93.8,760.3 98.6,759.6 C103.4,758.9 106.7,761.1 110.8,760.7 C114.9,760.3 119.3,758.7 123.1,757.3 C126.8,755.9 130.8,753.9 133.3,752.5 C135.8,751.1 136.2,750.5 138.0,748.9 C139.8,747.3 142.0,745.5 144.1,742.8 C146.2,740.1 148.2,736.6 150.3,732.5 C152.4,728.4 154.4,722.0 156.4,718.2 C158.4,714.5 160.6,711.9 162.6,710.0 C164.6,708.1 166.7,707.8 168.7,707.0 C170.7,706.2 172.2,706.4 174.8,705.4 C177.4,704.4 181.0,702.2 184.1,700.8 C187.2,699.3 190.8,697.6 193.3,696.7 C195.9,695.8 197.0,695.6 199.4,695.2 C201.8,694.8 205.4,694.7 208.0,694.5 C210.6,694.3 212.8,693.7 215.2,694.2 C217.6,694.7 219.8,696.4 222.4,697.7 C225.0,699.0 227.7,700.9 230.6,701.8 C233.5,702.7 236.9,701.7 239.8,702.9 C242.7,704.1 245.3,707.0 248.0,709.0 C250.7,711.0 253.4,713.4 256.2,715.1 C259.0,716.8 261.8,717.7 265.0,719.2 C268.2,720.8 271.8,722.7 275.2,724.4 C278.6,726.1 282.1,727.1 285.5,729.5 C288.9,731.9 292.6,736.2 295.7,738.7 C298.8,741.2 300.8,743.4 303.9,744.8 C307.0,746.2 310.5,745.5 314.1,746.9 C317.7,748.3 323.5,752.0 325.4,753.0" stroke="#ff0000" stroke-width="4.3" fill="none" stroke-linejoin="round" stroke-linecap="butt"/>
<path d="M199.4,635.9 V835.1" stroke="#2a2a2a" stroke-width="1.4"/>
<path d="M73.7,635.9 V835.1" stroke="#231f20" stroke-width="1.4" fill="none"/>
<path d="M67.4,835.1 H325.4" stroke="#231f20" stroke-width="1.4" fill="none"/>
<path d="M67.4,635.9 H73.7" stroke="#231f20" stroke-width="1.4"/>
<text x="60.6" y="641.7" font-size="24" text-anchor="end" font-weight="normal" fill="#000" >8</text>
<path d="M67.4,685.7 H73.7" stroke="#231f20" stroke-width="1.4"/>
<text x="60.6" y="692.1" font-size="24" text-anchor="end" font-weight="normal" fill="#000" >6</text>
<path d="M67.4,735.5 H73.7" stroke="#231f20" stroke-width="1.4"/>
<text x="60.6" y="742.4" font-size="24" text-anchor="end" font-weight="normal" fill="#000" >4</text>
<path d="M67.4,785.3 H73.7" stroke="#231f20" stroke-width="1.4"/>
<text x="60.6" y="792.8" font-size="24" text-anchor="end" font-weight="normal" fill="#000" >2</text>
<path d="M67.4,835.1 H73.7" stroke="#231f20" stroke-width="1.4"/>
<text x="60.6" y="843.1" font-size="24" text-anchor="end" font-weight="normal" fill="#000" >0</text>
<path d="M73.7,835.1 V841.1" stroke="#231f20" stroke-width="1.4"/>
<path d="M115.7,835.1 V841.1" stroke="#231f20" stroke-width="1.4"/>
<path d="M157.6,835.1 V841.1" stroke="#231f20" stroke-width="1.4"/>
<path d="M199.6,835.1 V841.1" stroke="#231f20" stroke-width="1.4"/>
<path d="M241.5,835.1 V841.1" stroke="#231f20" stroke-width="1.4"/>
<path d="M283.4,835.1 V841.1" stroke="#231f20" stroke-width="1.4"/>
<path d="M325.4,835.1 V841.1" stroke="#231f20" stroke-width="1.4"/>
<text x="113.3" y="867.7" font-size="24" text-anchor="middle" font-weight="normal" fill="#000" >-400</text>
<text x="201.0" y="867.7" font-size="24" text-anchor="middle" font-weight="normal" fill="#000" >0</text>
<text x="283.0" y="867.7" font-size="24" text-anchor="middle" font-weight="normal" fill="#000" >400</text>
<text x="199.0" y="896.3" font-size="23.6" text-anchor="middle" font-weight="normal" fill="#000" >Time from button release (ms)</text>
<text x="325.2" y="681.7" font-size="23.7" text-anchor="end" font-weight="normal" fill="#ff0000" >Chosen</text>
<text x="325.2" y="818.0" font-size="23.7" text-anchor="end" font-weight="normal" fill="#0000ee" >Unchosen</text>
<text transform="translate(19.0,738.2) rotate(-90)" font-size="23.7" text-anchor="middle" fill="#000">Spikes / sec</text>
<rect x="486.1" y="638.2" width="83.8" height="196.9" fill="#c8c8c8"/>
<path d="M402.6,774.2 C403.7,774.5 406.6,776.4 409.2,775.7 C411.8,775.0 414.8,773.0 418.4,770.1 C422.0,767.2 426.4,759.1 430.7,758.3 C434.9,757.4 440.3,764.0 443.9,765.0 C447.5,766.0 448.5,763.6 452.1,764.5 C455.7,765.4 460.7,771.3 465.4,770.6 C470.1,769.9 475.6,763.0 480.3,760.4 C485.0,757.8 489.5,755.1 493.6,754.7 C497.7,754.4 501.1,759.0 504.9,758.3 C508.6,757.6 512.5,753.4 516.1,750.7 C519.7,748.0 524.0,744.4 526.3,742.0 C528.6,739.6 528.4,738.5 530.0,736.5 C531.6,734.5 534.1,731.9 536.1,730.3 C538.1,728.7 539.1,726.7 542.3,726.8 C545.5,726.9 551.9,729.4 555.5,730.8 C559.1,732.2 561.1,733.5 563.7,735.4 C566.3,737.3 568.9,740.3 570.9,742.1 C572.9,743.9 573.3,746.4 576.0,746.2 C578.7,746.0 584.0,741.1 587.2,741.1 C590.4,741.1 592.5,744.4 595.0,746.2 C597.5,748.0 599.7,749.8 602.2,751.8 C604.7,753.8 607.1,758.2 609.8,757.9 C612.5,757.5 615.5,751.9 618.5,749.7 C621.5,747.5 624.8,744.2 627.7,744.6 C630.6,745.0 633.2,749.1 635.9,751.8 C638.6,754.5 641.1,759.1 644.0,761.0 C646.9,762.9 651.5,762.7 653.0,763.0 L653.0,787.8 C651.5,787.4 646.9,787.2 644.0,785.5 C641.1,783.8 638.8,779.5 635.9,777.3 C633.0,775.1 629.6,772.4 626.7,772.2 C623.8,772.0 621.2,774.8 618.5,776.3 C615.8,777.8 613.0,781.1 610.3,780.9 C607.6,780.6 604.8,776.5 602.2,774.8 C599.7,773.1 597.3,771.5 595.0,770.7 C592.7,769.9 591.2,769.9 588.2,770.2 C585.2,770.5 579.9,772.9 577.0,772.7 C574.1,772.5 573.1,770.8 570.9,769.2 C568.7,767.6 566.3,764.4 563.7,763.0 C561.1,761.6 558.9,761.7 555.5,761.0 C552.1,760.3 546.5,758.2 543.3,758.9 C540.1,759.6 538.3,762.7 536.1,765.1 C533.9,767.5 531.8,770.7 530.0,773.2 C528.2,775.7 527.6,778.8 525.3,780.3 C523.0,781.8 519.3,781.4 516.1,782.3 C512.9,783.1 510.2,784.2 505.9,785.4 C501.6,786.6 495.1,788.8 490.5,789.5 C485.9,790.2 482.3,788.9 478.3,789.5 C474.3,790.1 470.6,793.0 466.4,793.1 C462.2,793.2 456.7,790.5 453.1,790.0 C449.5,789.5 448.6,790.4 445.0,790.0 C441.4,789.6 435.8,787.1 431.7,787.4 C427.6,787.7 424.1,790.5 420.4,792.0 C416.6,793.5 412.2,796.1 409.2,796.6 C406.2,797.1 403.7,795.4 402.6,795.1 Z" fill="rgba(255,146,0,0.5)"/>
<path d="M402.6,784.4 C403.7,784.6 406.6,786.6 409.2,785.9 C411.8,785.2 414.6,782.6 418.4,780.3 C422.1,778.0 427.3,772.5 431.7,772.1 C436.1,771.7 441.4,776.9 445.0,777.7 C448.6,778.5 449.7,776.1 453.1,776.7 C456.5,777.4 462.6,781.0 465.4,781.6 C468.2,782.2 467.6,781.5 470.1,780.3 C472.6,779.1 476.2,775.8 480.3,774.2 C484.4,772.6 490.5,771.0 494.6,770.6 C498.7,770.2 501.3,772.8 504.9,772.1 C508.5,771.4 512.5,768.4 516.1,766.5 C519.7,764.6 524.0,762.5 526.3,760.9 C528.6,759.3 528.4,759.1 530.0,756.9 C531.6,754.7 534.1,750.2 536.1,747.7 C538.1,745.2 539.1,742.4 542.3,742.1 C545.5,741.8 551.9,744.6 555.5,745.7 C559.1,746.8 561.1,747.0 563.7,748.7 C566.3,750.4 568.7,754.0 570.9,755.9 C573.1,757.8 574.3,760.2 577.0,760.0 C579.7,759.8 584.2,755.2 587.2,754.9 C590.2,754.5 592.5,756.5 595.0,757.9 C597.5,759.2 599.7,761.1 602.2,763.0 C604.7,764.9 607.1,769.4 609.8,769.2 C612.5,769.0 615.7,763.9 618.5,762.0 C621.3,760.1 624.2,758.0 626.7,757.9 C629.2,757.8 631.1,759.3 633.8,761.5 C636.5,763.7 639.8,768.9 643.0,771.2 C646.2,773.5 651.3,774.6 653.0,775.3" stroke="#ff9200" stroke-width="4.3" fill="none" stroke-linejoin="round" stroke-linecap="butt"/>
<path d="M527.6,635.9 V835.1" stroke="#2a2a2a" stroke-width="1.4"/>
<path d="M402.3,635.9 V835.1" stroke="#231f20" stroke-width="1.4" fill="none"/>
<path d="M396.0,835.1 H653.1" stroke="#231f20" stroke-width="1.4" fill="none"/>
<path d="M396.0,635.9 H402.3" stroke="#231f20" stroke-width="1.4"/>
<text x="389.7" y="641.7" font-size="24" text-anchor="end" font-weight="normal" fill="#000" >8</text>
<path d="M396.0,685.7 H402.3" stroke="#231f20" stroke-width="1.4"/>
<text x="389.7" y="692.1" font-size="24" text-anchor="end" font-weight="normal" fill="#000" >6</text>
<path d="M396.0,735.5 H402.3" stroke="#231f20" stroke-width="1.4"/>
<text x="389.7" y="742.4" font-size="24" text-anchor="end" font-weight="normal" fill="#000" >4</text>
<path d="M396.0,785.3 H402.3" stroke="#231f20" stroke-width="1.4"/>
<text x="389.7" y="792.8" font-size="24" text-anchor="end" font-weight="normal" fill="#000" >2</text>
<path d="M396.0,835.1 H402.3" stroke="#231f20" stroke-width="1.4"/>
<text x="389.7" y="843.1" font-size="24" text-anchor="end" font-weight="normal" fill="#000" >0</text>
<path d="M402.3,835.1 V841.1" stroke="#231f20" stroke-width="1.4"/>
<path d="M444.1,835.1 V841.1" stroke="#231f20" stroke-width="1.4"/>
<path d="M485.9,835.1 V841.1" stroke="#231f20" stroke-width="1.4"/>
<path d="M527.7,835.1 V841.1" stroke="#231f20" stroke-width="1.4"/>
<path d="M569.5,835.1 V841.1" stroke="#231f20" stroke-width="1.4"/>
<path d="M611.3,835.1 V841.1" stroke="#231f20" stroke-width="1.4"/>
<path d="M653.1,835.1 V841.1" stroke="#231f20" stroke-width="1.4"/>
<text x="441.9" y="867.7" font-size="24" text-anchor="middle" font-weight="normal" fill="#000" >-400</text>
<text x="529.2" y="867.7" font-size="24" text-anchor="middle" font-weight="normal" fill="#000" >0</text>
<text x="611.1" y="867.7" font-size="24" text-anchor="middle" font-weight="normal" fill="#000" >400</text>
<text x="526.6" y="896.3" font-size="23.6" text-anchor="middle" font-weight="normal" fill="#000" >Time from button release (ms)</text>
<text x="90.7" y="960.5" font-size="36.9" text-anchor="start" font-weight="bold" fill="#000" >d</text>
<path d="M228.8,981.7 V1179.7 H426.8" stroke="#231f20" stroke-width="1.4" fill="none"/>
<path d="M222.4,1151.7 H228.8" stroke="#231f20" stroke-width="1.4"/>
<path d="M256.6,1179.7 V1186.3" stroke="#231f20" stroke-width="1.4"/>
<text x="215.9" y="1159.1" font-size="24.8" text-anchor="end" font-weight="normal" fill="#000" >0</text>
<text x="256.6" y="1213.6" font-size="24" text-anchor="middle" font-weight="normal" fill="#000" >0</text>
<path d="M222.4,1095.0 H228.8" stroke="#231f20" stroke-width="1.4"/>
<path d="M313.3,1179.7 V1186.3" stroke="#231f20" stroke-width="1.4"/>
<text x="215.9" y="1102.4" font-size="24.8" text-anchor="end" font-weight="normal" fill="#000" >4</text>
<text x="313.3" y="1213.6" font-size="24" text-anchor="middle" font-weight="normal" fill="#000" >4</text>
<path d="M222.4,1038.3 H228.8" stroke="#231f20" stroke-width="1.4"/>
<path d="M370.0,1179.7 V1186.3" stroke="#231f20" stroke-width="1.4"/>
<text x="215.9" y="1045.7" font-size="24.8" text-anchor="end" font-weight="normal" fill="#000" >8</text>
<text x="370.0" y="1213.6" font-size="24" text-anchor="middle" font-weight="normal" fill="#000" >8</text>
<path d="M222.4,981.7 H228.8" stroke="#231f20" stroke-width="1.4"/>
<path d="M426.8,1179.7 V1186.3" stroke="#231f20" stroke-width="1.4"/>
<text x="215.9" y="989.1" font-size="24.8" text-anchor="end" font-weight="normal" fill="#000" >12</text>
<text x="426.8" y="1213.6" font-size="24" text-anchor="middle" font-weight="normal" fill="#000" >12</text>
<line x1="229.2" y1="1179.3" x2="427.7" y2="981.2" stroke="#000" stroke-width="1.5" stroke-dasharray="2.6 2.4"/>
<circle cx="281.3" cy="1128.2" r="3.8" fill="#9000ff"/>
<circle cx="285.7" cy="1127.6" r="3.8" fill="#ff0000"/>
<circle cx="234.1" cy="1153.9" r="3.8" fill="#ff0000"/>
<circle cx="231.8" cy="1161.1" r="3.8" fill="#ff0000"/>
<circle cx="242.5" cy="1153.3" r="3.8" fill="#ff0000"/>
<circle cx="255.6" cy="1132" r="3.8" fill="#000"/>
<circle cx="260.6" cy="1141" r="3.8" fill="#000"/>
<circle cx="250.1" cy="1147.1" r="3.8" fill="#000"/>
<circle cx="260.0" cy="1146.3" r="3.8" fill="#000"/>
<circle cx="263.0" cy="1145.1" r="3.8" fill="#000"/>
<circle cx="261.8" cy="1148.6" r="3.8" fill="#000"/>
<circle cx="243.7" cy="1153.9" r="3.8" fill="#000"/>
<circle cx="242.3" cy="1158" r="3.8" fill="#000"/>
<circle cx="233.4" cy="1173.7" r="3.8" fill="#000"/>
<circle cx="271.1" cy="1147.1" r="3.8" fill="#ff0000"/>
<circle cx="268.2" cy="1151.5" r="3.8" fill="#ff0000"/>
<circle cx="279.9" cy="1149.8" r="3.8" fill="#ff0000"/>
<circle cx="286.3" cy="1143.4" r="3.8" fill="#ff0000"/>
<circle cx="284.0" cy="1145.1" r="3.8" fill="#ff0000"/>
<circle cx="285.7" cy="1150.4" r="3.8" fill="#ff0000"/>
<circle cx="278.7" cy="1159.1" r="3.8" fill="#ff0000"/>
<circle cx="291.0" cy="1165.0" r="3.8" fill="#ff0000"/>
<circle cx="296.2" cy="1153.9" r="3.8" fill="#ff0000"/>
<circle cx="300.3" cy="1151.5" r="3.8" fill="#ff0000"/>
<circle cx="317.2" cy="1149.7" r="3.8" fill="#ff0000"/>
<circle cx="345.4" cy="1128.4" r="3.8" fill="#ff0000"/>
<circle cx="411.4" cy="1019.5" r="3.8" fill="#ff0000"/>
<circle cx="286.0" cy="1098.7" r="3.8" fill="#9000ff"/>
<circle cx="333.1" cy="1110.2" r="3.8" fill="#9000ff"/>
<circle cx="403.1" cy="1123.6" r="3.8" fill="#9000ff"/>
<circle cx="425.2" cy="1103.5" r="3.8" fill="#9000ff"/>
<circle cx="476.3" cy="981.9" r="4.0" fill="#ff0000"/>
<text x="486.8" y="987.6" font-size="23.8" text-anchor="start" font-weight="normal" fill="#ff0000" >Decision</text>
<circle cx="476.3" cy="1009.9" r="4.0" fill="#9000ff"/>
<text x="486.8" y="1015.6" font-size="23.8" text-anchor="start" font-weight="normal" fill="#9000ff" >Both</text>
<circle cx="476.3" cy="1037.7" r="4.0" fill="#000"/>
<text x="486.8" y="1043.4" font-size="23.8" text-anchor="start" font-weight="normal" fill="#000" >Neither</text>
<text x="328.4" y="1239.3" font-size="21.1" text-anchor="middle" font-weight="normal" fill="#000" >Modulation by button release</text>
<text x="328.2" y="1263.5" font-size="21.1" text-anchor="middle" font-weight="normal" fill="#000" >in decision-making task (spks/s)</text>
<text transform="translate(150.2,1082.4) rotate(-90)" font-size="21.1" text-anchor="middle" fill="#000">Modulation by button release</text>
<text transform="translate(174.6,1080.5) rotate(-90)" font-size="21.1" text-anchor="middle" fill="#000">in button-release task (spks/s)</text>
</svg>
</body></html>
